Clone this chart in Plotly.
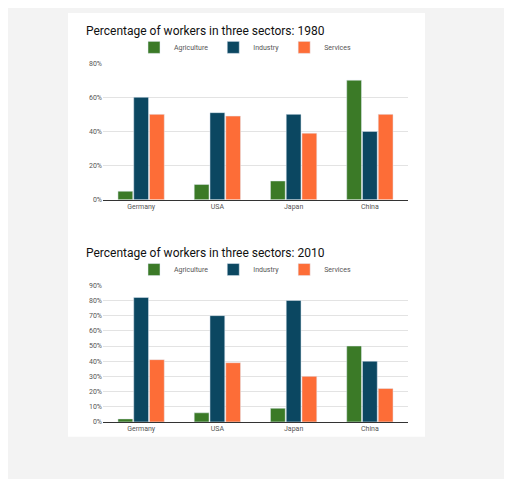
import plotly.graph_objects as go

countries = ["Germany", "USA", "Japan", "China"]
agri_1980 = [5, 9, 11, 70]
ind_1980 = [60, 51, 50, 40]
serv_1980 = [50, 49, 39, 50]
agri_2010 = [2, 6, 9, 50]
ind_2010 = [82, 70, 80, 40]
serv_2010 = [41, 39, 30, 22]
sectors = ["Agriculture", "Industry", "Services"]
colors = ["#3b7a27", "#0b4761", "#fd6d37"]

W, H = 504, 471
OFF = 8
def fx(p): return (p - OFF) / W
def fy(p): return 1 - (p - OFF) / H

fig = go.Figure()
for name, vals, c in zip(sectors, [agri_1980, ind_1980, serv_1980], colors):
    fig.add_bar(x=countries, y=vals, name=name, marker_color=c, xaxis="x", yaxis="y", legend="legend")
for name, vals, c in zip(sectors, [agri_2010, ind_2010, serv_2010], colors):
    fig.add_bar(x=countries, y=vals, name=name, marker_color=c, xaxis="x2", yaxis="y2", legend="legend2")

tickf = dict(family="Roboto, Arial", size=7, color="#555")
ax = dict(domain=[fx(103), fx(408)], showgrid=False, showline=True, linecolor="#333", linewidth=1,
          tickfont=tickf, ticks="")
legfont = dict(family="Roboto, Arial", size=7, color="#555")
fig.update_layout(
    width=W, height=H, margin=dict(l=0, r=0, t=0, b=0),
    paper_bgcolor="#f3f3f3", plot_bgcolor="white",
    barmode="group", bargap=0.38, bargroupgap=0.06,
    xaxis=dict(ax, anchor="y"),
    xaxis2=dict(ax, anchor="y2"),
    yaxis=dict(domain=[fy(199), fy(60)], range=[0, 80], dtick=20, ticksuffix="%", gridcolor="#e3e3e3",
               tickfont=tickf, zeroline=False, anchor="x"),
    yaxis2=dict(domain=[fy(425), fy(286)], range=[0, 90], dtick=10, ticksuffix="%", gridcolor="#e3e3e3",
                tickfont=tickf, zeroline=False, anchor="x2"),
    legend=dict(orientation="h", x=fx(245), xanchor="center", y=fy(44), yanchor="middle",
                font=legfont, bgcolor="rgba(0,0,0,0)", itemwidth=30),
    legend2=dict(orientation="h", x=fx(245), xanchor="center", y=fy(270), yanchor="middle",
                 font=legfont, bgcolor="rgba(0,0,0,0)", itemwidth=30),
    shapes=[dict(type="rect", xref="paper", yref="paper", x0=fx(68), x1=fx(425), y0=fy(440), y1=fy(9),
                 fillcolor="white", line=dict(width=0), layer="below")],
    annotations=[
        dict(text="Percentage of workers in three sectors: 1980", xref="paper", yref="paper",
             x=fx(84), y=fy(27), xanchor="left", yanchor="middle", showarrow=False,
             font=dict(family="Roboto, Arial", size=12, color="#111")),
        dict(text="Percentage of workers in three sectors: 2010", xref="paper", yref="paper",
             x=fx(84), y=fy(253), xanchor="left", yanchor="middle", showarrow=False,
             font=dict(family="Roboto, Arial", size=12, color="#111")),
    ],
)
fig.write_html("out.html")
